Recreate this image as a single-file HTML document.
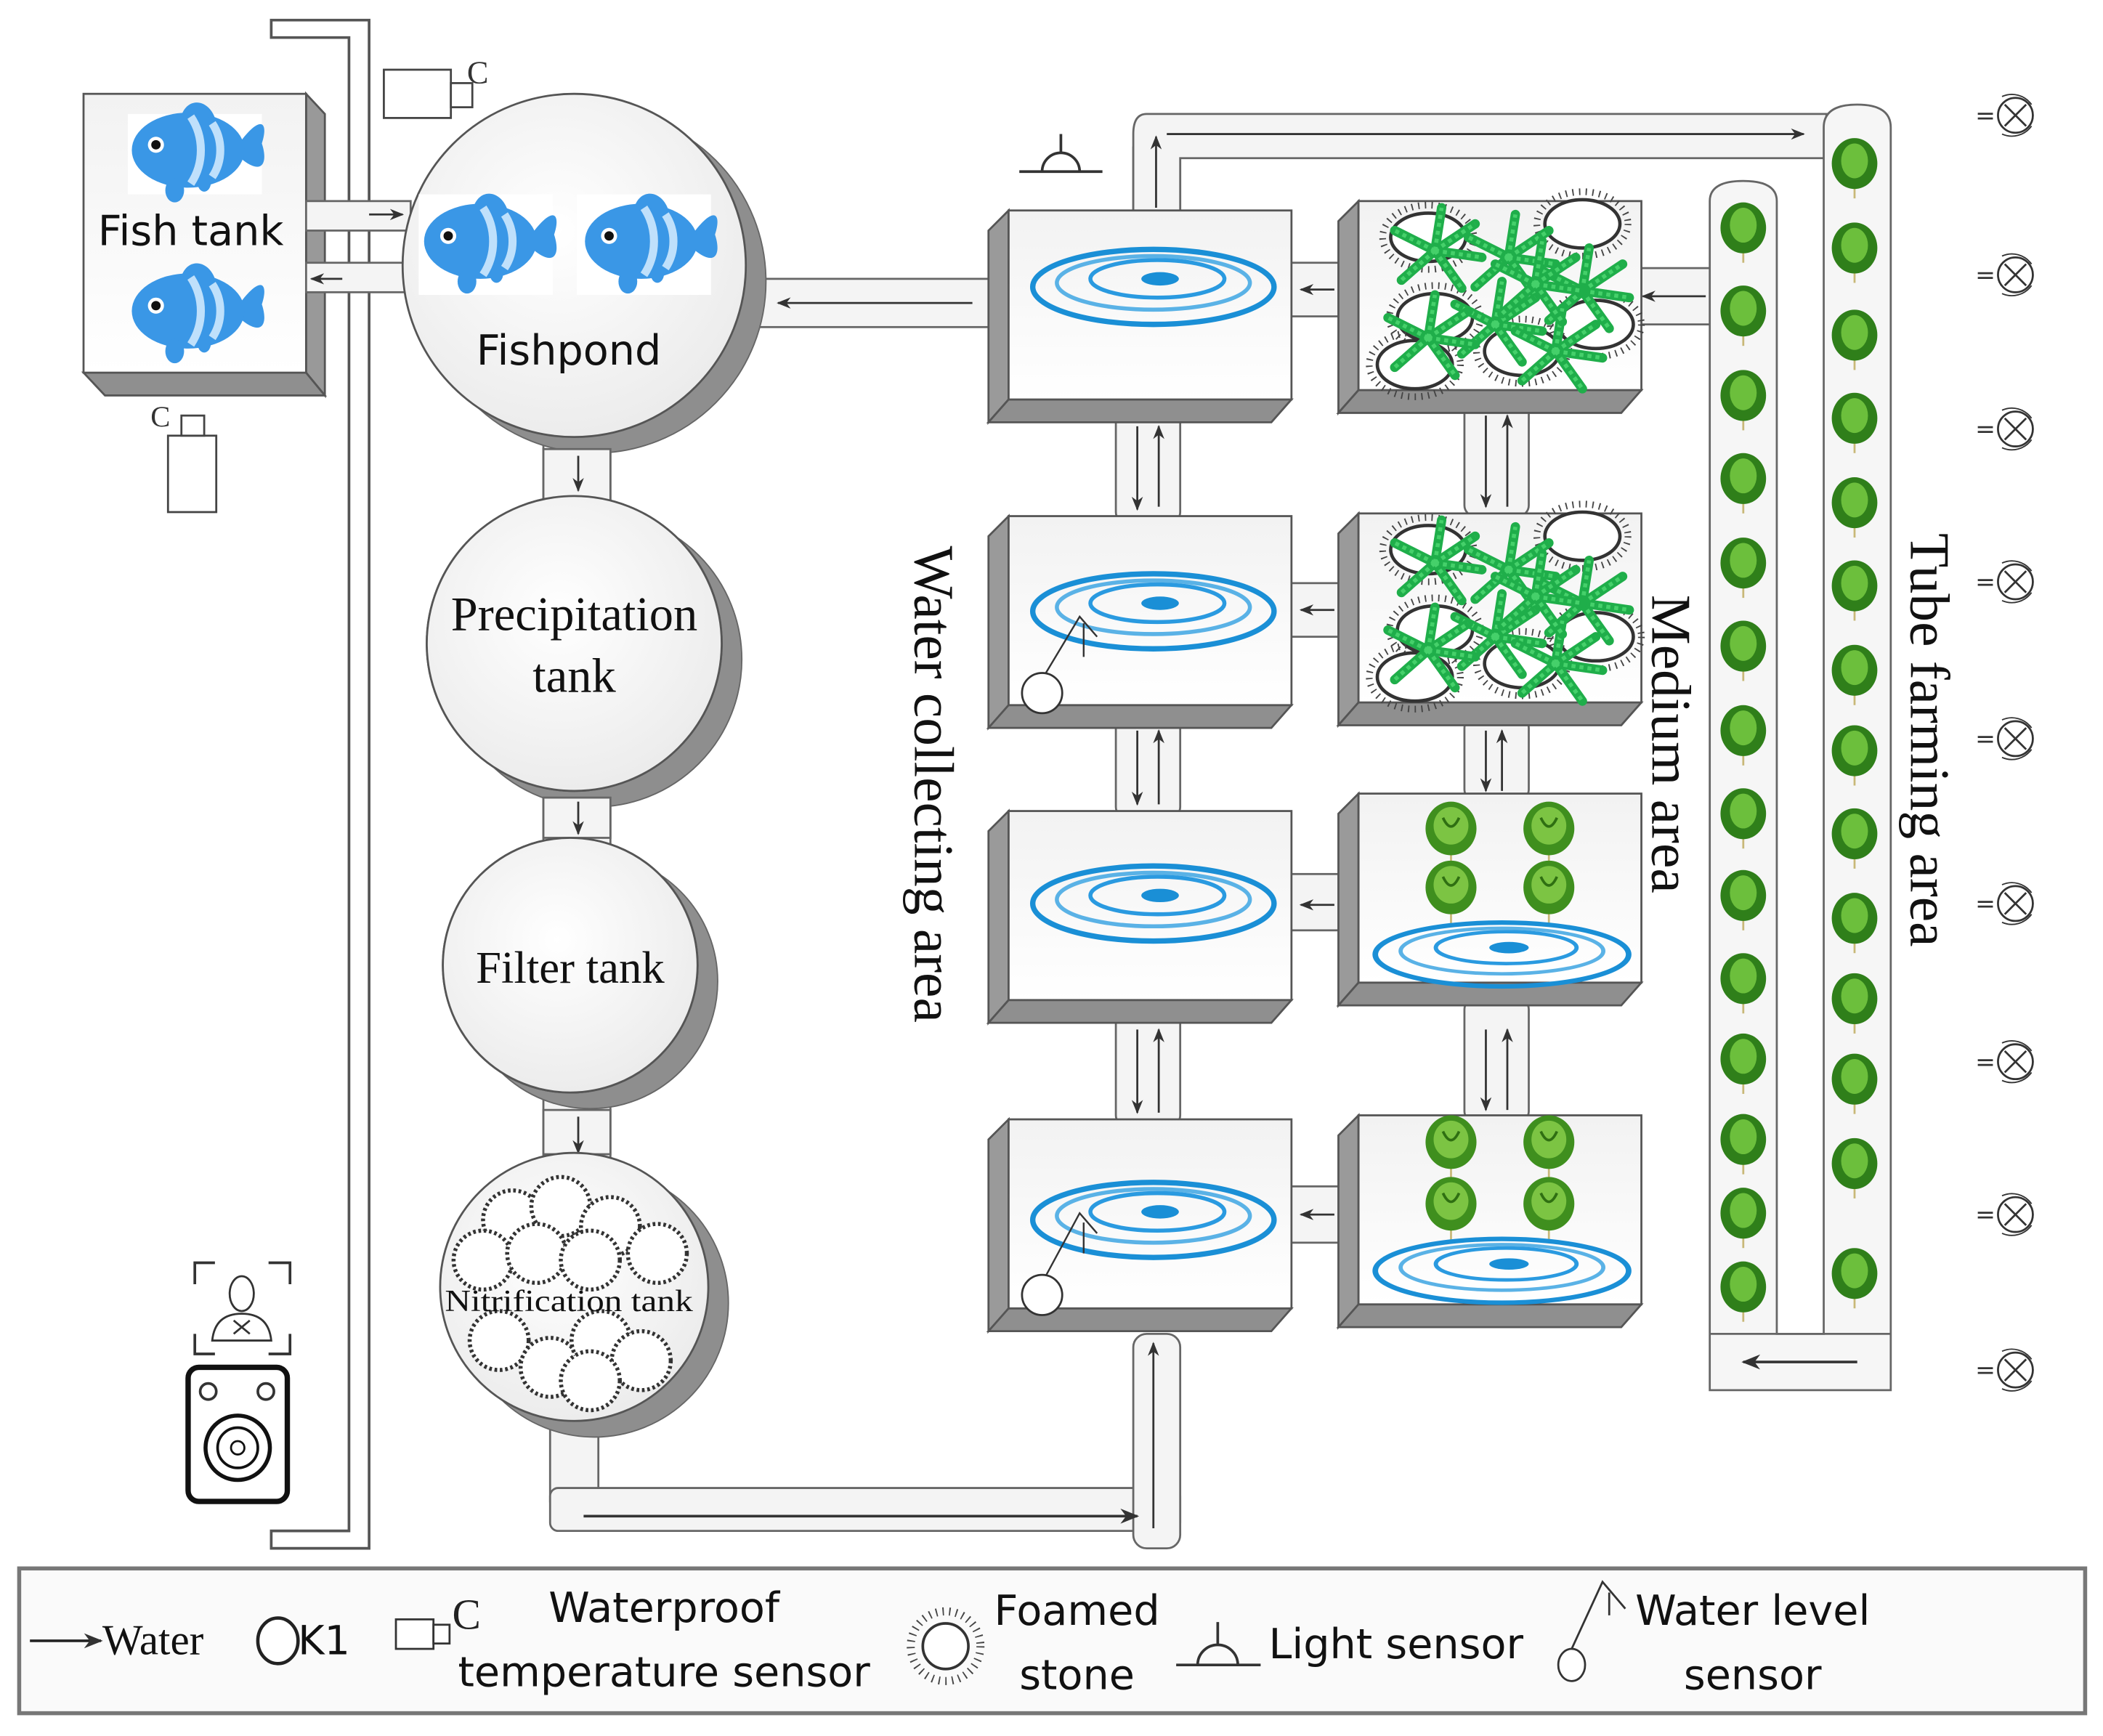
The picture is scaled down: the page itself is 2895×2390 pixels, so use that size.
<!DOCTYPE html>
<html><head><meta charset="utf-8">
<style>
html,body{margin:0;padding:0;background:#fff;}
svg{display:block;}
.sans{font-family:"DejaVu Sans","Liberation Sans",sans-serif;}
.serif{font-family:"Liberation Serif",serif;}
</style></head>
<body>
<svg width="2895" height="2390" viewBox="0 0 1568 1295" xmlns="http://www.w3.org/2000/svg">
<defs>
  <marker id="ah" viewBox="0 0 10 10" refX="9" refY="5" markerWidth="7" markerHeight="7" orient="auto-start-reverse">
    <path d="M0,1 L10,5 L0,9 L3,5 z" fill="#333"/>
  </marker>
  <linearGradient id="fg" x1="0" y1="0" x2="0" y2="1">
    <stop offset="0" stop-color="#f2f2f2"/><stop offset="1" stop-color="#ffffff"/>
  </linearGradient>
  <radialGradient id="cg" cx="0.45" cy="0.4" r="0.6">
    <stop offset="0" stop-color="#ffffff"/><stop offset="1" stop-color="#ececec"/>
  </radialGradient>
  <g id="box">
    <polygon points="0,15 15,0 15,141 0,158" fill="#9a9a9a" stroke="#555" stroke-width="1.5"/>
    <polygon points="0,158 15,141 226,141 211,158" fill="#8f8f8f" stroke="#555" stroke-width="1.5"/>
    <rect x="15" y="0" width="211" height="141" fill="url(#fg)" stroke="#555" stroke-width="1.5"/>
  </g>
  <g id="ripple">
    <ellipse cx="0" cy="0" rx="90" ry="28" fill="none" stroke="#1a8fd6" stroke-width="4"/>
    <ellipse cx="0" cy="-3" rx="72" ry="20" fill="none" stroke="#5ab2e6" stroke-width="3"/>
    <ellipse cx="3" cy="-6" rx="50" ry="14" fill="none" stroke="#2a9ae0" stroke-width="3"/>
    <ellipse cx="5" cy="-6" rx="14" ry="5" fill="#1a8fd6"/>
  </g>
  <g id="fish">
    <path d="M38,-5 C55,-28 60,-20 55,-5 C60,10 55,20 38,5 z" fill="#3a97e6"/>
    <ellipse cx="0" cy="0" rx="42" ry="28" fill="#3a97e6"/>
    <path d="M-5,-26 C0,-40 15,-38 20,-24 z" fill="#3a97e6"/>
    <ellipse cx="-10" cy="30" rx="7" ry="9" fill="#3a97e6"/>
    <ellipse cx="12" cy="24" rx="5" ry="7" fill="#3a97e6"/>
    <path d="M2,-25 C12,-10 12,10 2,25" stroke="#bfe0fb" stroke-width="6" fill="none"/>
    <path d="M18,-20 C26,-8 26,8 18,20" stroke="#bfe0fb" stroke-width="6" fill="none"/>
    <circle cx="-24" cy="-4" r="6" fill="#fff"/><circle cx="-24" cy="-4" r="3.5" fill="#111"/>
  </g>
  <g id="let">
    <line x1="0" y1="10" x2="0" y2="28" stroke="#c8b878" stroke-width="1.5"/>
    <ellipse cx="0" cy="0" rx="19" ry="20" fill="#3f8f1e"/>
    <ellipse cx="0" cy="-2" rx="13" ry="14" fill="#7cc443"/>
    <path d="M-6,-8 Q0,5 6,-8" stroke="#2f6f12" stroke-width="2" fill="none"/>
  </g>
  <g id="slet">
    <line x1="0" y1="10" x2="0" y2="26" stroke="#c8b878" stroke-width="1.5"/>
    <ellipse cx="0" cy="0" rx="17" ry="19" fill="#2f7f1a"/>
    <ellipse cx="0" cy="-2" rx="10" ry="13" fill="#6cbf3c"/>
  </g>
  <g id="stone">
    <circle r="22" fill="#fff" stroke="#333" stroke-width="3" stroke-dasharray="2 2"/>
  </g>
  <g id="fern">
    <path d="M0,0 L30,-20 M0,0 L35,5 M0,0 L20,28 M0,0 L-30,-15 M0,0 L-25,22 M0,0 L5,-32" stroke="#1fae4a" stroke-width="7" stroke-linecap="round"/>
    <path d="M0,0 L30,-20 M0,0 L35,5 M0,0 L20,28 M0,0 L-30,-15 M0,0 L-25,22 M0,0 L5,-32" stroke="#45d06a" stroke-width="3" stroke-dasharray="3 3"/>
  </g>
  <g id="spike">
    <ellipse rx="28" ry="18" fill="#fff" stroke="#333" stroke-width="2.5"/>
    <ellipse rx="34" ry="24" fill="none" stroke="#444" stroke-width="5" stroke-dasharray="1 4"/>
  </g>
  <g id="fan">
    <text x="-22" y="6" font-size="18" class="sans" fill="#333">=</text>
    <circle cx="8" cy="0" r="13" fill="#fff" stroke="#333" stroke-width="1.5"/>
    <path d="M0,-8 L16,8 M16,-8 L0,8" stroke="#333" stroke-width="1.5"/>
    <path d="M-2,-14 A18,18 0 0 1 20,-8 M-2,14 A18,18 0 0 0 20,8" stroke="#333" stroke-width="1" fill="none"/>
  </g>
  <g id="medgreen">
    <use href="#spike" x="-60" y="-45"/><use href="#spike" x="55" y="-55"/>
    <use href="#spike" x="-55" y="15"/><use href="#spike" x="65" y="20"/>
    <use href="#spike" x="-70" y="50"/><use href="#spike" x="10" y="40"/>
    <use href="#fern" x="-55" y="-35"/><use href="#fern" x="0" y="-30"/>
    <use href="#fern" x="55" y="-5"/><use href="#fern" x="-10" y="20"/>
    <use href="#fern" x="35" y="40"/><use href="#fern" x="-60" y="30"/>
    <use href="#fern" x="20" y="-10"/>
  </g>
</defs>

<!-- big pole -->
<polygon points="202,15 275,15 275,1155 202,1155 202,1142 260,1142 260,28 202,28" fill="#fff" stroke="#555" stroke-width="2"/>

<!-- fish tank -->
<polygon points="228,70 242,85 242,295 228,278" fill="#999" stroke="#555" stroke-width="1.5"/>
<polygon points="62,278 228,278 242,295 78,295" fill="#8f8f8f" stroke="#555" stroke-width="1.5"/>
<rect x="62" y="70" width="166" height="208" fill="url(#fg)" stroke="#555" stroke-width="1.5"/>
<rect x="95" y="85" width="100" height="60" fill="#fff"/>
<use href="#fish" x="140" y="112"/>
<use href="#fish" x="140" y="232"/>
<text x="142" y="183" font-size="31" class="sans" text-anchor="middle" fill="#111">Fish tank</text>

<!-- pipes fish tank - fishpond -->
<rect x="228" y="150" width="78" height="22" fill="#f4f4f4" stroke="#666" stroke-width="1.5"/>
<rect x="228" y="196" width="78" height="22" fill="#f4f4f4" stroke="#666" stroke-width="1.5"/>
<line x1="275" y1="160" x2="300" y2="160" stroke="#333" stroke-width="1.5" marker-end="url(#ah)"/>
<line x1="255" y1="208" x2="232" y2="208" stroke="#333" stroke-width="1.5" marker-end="url(#ah)"/>

<!-- temp sensors -->
<rect x="286" y="52" width="50" height="36" fill="#fff" stroke="#444" stroke-width="1.5"/>
<rect x="336" y="62" width="16" height="18" fill="#fff" stroke="#444" stroke-width="1.5"/>
<text x="348" y="62" font-size="24" class="serif" fill="#333">C</text>
<rect x="125" y="325" width="36" height="57" fill="#fff" stroke="#444" stroke-width="1.5"/>
<rect x="135" y="310" width="17" height="15" fill="#fff" stroke="#444" stroke-width="1.5"/>
<text x="112" y="318" font-size="22" class="serif" fill="#333">C</text>

<!-- pipe fishpond <- water box -->
<rect x="540" y="208" width="200" height="36" fill="#f4f4f4" stroke="#666" stroke-width="1.5"/>
<line x1="725" y1="226" x2="580" y2="226" stroke="#333" stroke-width="1.5" marker-end="url(#ah)"/>

<!-- connector pipes circles -->
<rect x="405" y="318" width="50" height="60" fill="#f4f4f4" stroke="#666" stroke-width="1.5"/>
<rect x="405" y="585" width="50" height="45" fill="#f4f4f4" stroke="#666" stroke-width="1.5"/>
<rect x="405" y="810" width="50" height="55" fill="#f4f4f4" stroke="#666" stroke-width="1.5"/>

<!-- fishpond -->
<circle cx="443" cy="210" r="128" fill="#8e8e8e" stroke="#666"/>
<circle cx="428" cy="198" r="128" fill="url(#cg)" stroke="#555" stroke-width="1.5"/>
<rect x="312" y="145" width="100" height="75" fill="#fff"/>
<rect x="430" y="145" width="100" height="75" fill="#fff"/>
<use href="#fish" x="358" y="180"/><use href="#fish" x="478" y="180"/>
<text x="424" y="272" font-size="31" class="sans" text-anchor="middle" fill="#111">Fishpond</text>

<!-- precipitation -->
<circle cx="443" cy="492" r="110" fill="#8e8e8e" stroke="#666"/>
<circle cx="428" cy="480" r="110" fill="url(#cg)" stroke="#555" stroke-width="1.5"/>
<text x="428" y="470" font-size="36" class="serif" text-anchor="middle" fill="#111">Precipitation</text>
<text x="428" y="516" font-size="36" class="serif" text-anchor="middle" fill="#111">tank</text>

<!-- filter -->
<circle cx="440" cy="732" r="95" fill="#8e8e8e" stroke="#666"/>
<circle cx="425" cy="720" r="95" fill="url(#cg)" stroke="#555" stroke-width="1.5"/>
<text x="425" y="733" font-size="34" class="serif" text-anchor="middle" fill="#111">Filter tank</text>

<!-- circle connector pipes (drawn over shadows) -->
<rect x="405" y="335" width="50" height="40" fill="#f4f4f4" stroke="#666" stroke-width="1.5"/>
<rect x="405" y="595" width="50" height="30" fill="#f4f4f4" stroke="#666" stroke-width="1.5"/>
<rect x="405" y="828" width="50" height="33" fill="#f4f4f4" stroke="#666" stroke-width="1.5"/>
<circle cx="428" cy="480" r="110" fill="url(#cg)" stroke="#555" stroke-width="1.5"/>
<text x="428" y="470" font-size="36" class="serif" text-anchor="middle" fill="#111">Precipitation</text>
<text x="428" y="516" font-size="36" class="serif" text-anchor="middle" fill="#111">tank</text>
<circle cx="425" cy="720" r="95" fill="url(#cg)" stroke="#555" stroke-width="1.5"/>
<text x="425" y="733" font-size="34" class="serif" text-anchor="middle" fill="#111">Filter tank</text>
<g stroke="#333" stroke-width="1.5" marker-end="url(#ah)">
<line x1="431" y1="340" x2="431" y2="366"/>
<line x1="431" y1="598" x2="431" y2="622"/>
<line x1="431" y1="833" x2="431" y2="860"/>
</g>

<!-- bottom pipe -->
<rect x="410" y="1060" width="36" height="60" fill="#f4f4f4" stroke="#666" stroke-width="1.5"/>
<rect x="410" y="1110" width="470" height="32" rx="6" fill="#f4f4f4" stroke="#666" stroke-width="1.5"/>
<rect x="845" y="995" width="35" height="160" rx="10" fill="#f4f4f4" stroke="#666" stroke-width="1.5"/>
<line x1="435" y1="1131" x2="848" y2="1131" stroke="#333" stroke-width="2" marker-end="url(#ah)"/>
<line x1="860" y1="1140" x2="860" y2="1002" stroke="#333" stroke-width="1.5" marker-end="url(#ah)"/>

<!-- nitrification -->
<circle cx="443" cy="972" r="100" fill="#8e8e8e" stroke="#666"/>
<circle cx="428" cy="960" r="100" fill="url(#cg)" stroke="#555" stroke-width="1.5"/>
<use href="#stone" x="382" y="910"/><use href="#stone" x="418" y="900"/><use href="#stone" x="455" y="915"/>
<use href="#stone" x="490" y="935"/><use href="#stone" x="360" y="940"/><use href="#stone" x="400" y="935"/><use href="#stone" x="440" y="940"/>
<use href="#stone" x="372" y="1000"/><use href="#stone" x="410" y="1020"/><use href="#stone" x="448" y="1000"/><use href="#stone" x="478" y="1015"/><use href="#stone" x="440" y="1030"/>
<text x="424" y="978" font-size="23" class="serif" text-anchor="middle" fill="#111" textLength="185" lengthAdjust="spacingAndGlyphs">Nitrification tank</text>

<!-- person & speaker -->
<path d="M145,958 V942 H160 M200,942 H216 V958 M145,995 V1010 H160 M200,1010 H216 V995" stroke="#333" stroke-width="2" fill="none"/>
<ellipse cx="180" cy="965" rx="9" ry="13" fill="#fff" stroke="#333" stroke-width="1.5"/>
<path d="M158,1000 Q160,980 180,980 Q200,980 202,1000 z" fill="#fff" stroke="#333" stroke-width="1.5"/>
<path d="M174,985 L186,995 M186,985 L174,995" stroke="#333" stroke-width="1.5"/>
<rect x="140" y="1020" width="74" height="100" rx="8" fill="#fff" stroke="#111" stroke-width="4"/>
<circle cx="155" cy="1038" r="6" fill="#fff" stroke="#333" stroke-width="2"/>
<circle cx="198" cy="1038" r="6" fill="#fff" stroke="#333" stroke-width="2"/>
<circle cx="177" cy="1080" r="24" fill="#fff" stroke="#111" stroke-width="3"/>
<circle cx="177" cy="1080" r="15" fill="#fff" stroke="#111" stroke-width="2"/>
<circle cx="177" cy="1080" r="5" fill="#fff" stroke="#111" stroke-width="1.5"/>

<!-- top pipe -->
<rect x="845" y="110" width="35" height="50" fill="#f4f4f4" stroke="#666" stroke-width="1.5"/>
<path d="M855,85 H1362 V118 H880 V160 H845 V100 Q845,85 855,85 z" fill="#f4f4f4" stroke="#666" stroke-width="1.5"/>
<line x1="862" y1="155" x2="862" y2="102" stroke="#333" stroke-width="1.5" marker-end="url(#ah)"/>
<line x1="870" y1="100" x2="1345" y2="100" stroke="#333" stroke-width="1.5" marker-end="url(#ah)"/>
<!-- light sensor -->
<path d="M760,128 H822 M777,128 A14,14 0 0 1 805,128 M791,114 V100" stroke="#333" stroke-width="2" fill="none"/>

<!-- vertical connectors -->
<g fill="#f4f4f4" stroke="#666" stroke-width="1.5">
<rect x="832" y="305" width="48" height="85" rx="8"/>
<rect x="832" y="535" width="48" height="75" rx="8"/>
<rect x="832" y="755" width="48" height="85" rx="8"/>
<rect x="1092" y="295" width="48" height="90" rx="8"/>
<rect x="1092" y="535" width="48" height="62" rx="8"/>
<rect x="1092" y="745" width="48" height="92" rx="8"/>
</g>
<g stroke="#333" stroke-width="1.5" marker-end="url(#ah)">
<line x1="848" y1="318" x2="848" y2="380"/><line x1="864" y1="378" x2="864" y2="318"/>
<line x1="848" y1="545" x2="848" y2="600"/><line x1="864" y1="600" x2="864" y2="545"/>
<line x1="848" y1="768" x2="848" y2="830"/><line x1="864" y1="830" x2="864" y2="768"/>
<line x1="1108" y1="310" x2="1108" y2="378"/><line x1="1124" y1="378" x2="1124" y2="310"/>
<line x1="1108" y1="545" x2="1108" y2="590"/><line x1="1120" y1="590" x2="1120" y2="545"/>
<line x1="1108" y1="768" x2="1108" y2="828"/><line x1="1124" y1="828" x2="1124" y2="768"/>
</g>

<!-- horizontal connectors -->
<g fill="#f4f4f4" stroke="#666" stroke-width="1.5">
<rect x="960" y="196" width="42" height="40"/>
<rect x="960" y="435" width="42" height="40"/>
<rect x="960" y="652" width="42" height="42"/>
<rect x="960" y="885" width="42" height="42"/>
<rect x="1218" y="200" width="60" height="42"/>
</g>
<g stroke="#333" stroke-width="1.5" marker-end="url(#ah)">
<line x1="995" y1="216" x2="970" y2="216"/>
<line x1="995" y1="455" x2="970" y2="455"/>
<line x1="995" y1="675" x2="970" y2="675"/>
<line x1="995" y1="906" x2="970" y2="906"/>
<line x1="1272" y1="221" x2="1225" y2="221"/>
</g>

<!-- water boxes -->
<use href="#box" x="737" y="157"/>
<use href="#box" x="737" y="385"/>
<use href="#box" x="737" y="605"/>
<use href="#box" x="737" y="835"/>
<use href="#ripple" x="860" y="214"/>
<use href="#ripple" x="860" y="456"/>
<use href="#ripple" x="860" y="674"/>
<use href="#ripple" x="860" y="910"/>
<g stroke="#333" stroke-width="1.3" fill="none">
<path d="M778,505 L805,460 L818,475 M808,465 L808,490"/>
<path d="M778,955 L805,905 L818,920 M808,912 L808,935"/>
</g>
<circle cx="777" cy="517" r="15" fill="#fff" stroke="#333" stroke-width="1.5"/>
<circle cx="777" cy="966" r="15" fill="#fff" stroke="#333" stroke-width="1.5"/>

<!-- medium boxes -->
<use href="#box" x="998" y="150"/>
<use href="#box" x="998" y="383"/>
<use href="#box" x="998" y="592"/>
<use href="#box" x="998" y="832"/>
<use href="#medgreen" x="1125" y="222"/>
<use href="#medgreen" x="1125" y="455"/>
<use href="#let" x="1082" y="618"/><use href="#let" x="1155" y="618"/>
<use href="#let" x="1082" y="662"/><use href="#let" x="1155" y="662"/>
<use href="#ripple" x="1120" y="712" transform="translate(1120 712) scale(1.05 0.85) translate(-1120 -712)"/>
<use href="#let" x="1082" y="852"/><use href="#let" x="1155" y="852"/>
<use href="#let" x="1082" y="898"/><use href="#let" x="1155" y="898"/>
<use href="#ripple" x="1120" y="948" transform="translate(1120 948) scale(1.05 0.85) translate(-1120 -948)"/>

<!-- tubes -->
<path d="M1275,150 Q1275,135 1300,135 Q1325,135 1325,150 V995 H1360 V95 Q1360,78 1385,78 Q1410,78 1410,95 V1037 H1275 z" fill="#f6f6f6" stroke="#666" stroke-width="1.5"/>
<line x1="1275" y1="995" x2="1410" y2="995" stroke="#666" stroke-width="1.5"/>
<line x1="1385" y1="1016" x2="1300" y2="1016" stroke="#333" stroke-width="2" marker-end="url(#ah)"/>
<g>
<use href="#slet" x="1300" y="170"/><use href="#slet" x="1300" y="232"/><use href="#slet" x="1300" y="295"/>
<use href="#slet" x="1300" y="357"/><use href="#slet" x="1300" y="420"/><use href="#slet" x="1300" y="482"/>
<use href="#slet" x="1300" y="545"/><use href="#slet" x="1300" y="607"/><use href="#slet" x="1300" y="668"/>
<use href="#slet" x="1300" y="730"/><use href="#slet" x="1300" y="790"/><use href="#slet" x="1300" y="850"/>
<use href="#slet" x="1300" y="905"/><use href="#slet" x="1300" y="960"/>
<use href="#slet" x="1383" y="122"/><use href="#slet" x="1383" y="185"/><use href="#slet" x="1383" y="250"/>
<use href="#slet" x="1383" y="312"/><use href="#slet" x="1383" y="375"/><use href="#slet" x="1383" y="437"/>
<use href="#slet" x="1383" y="500"/><use href="#slet" x="1383" y="560"/><use href="#slet" x="1383" y="622"/>
<use href="#slet" x="1383" y="685"/><use href="#slet" x="1383" y="745"/><use href="#slet" x="1383" y="805"/>
<use href="#slet" x="1383" y="868"/><use href="#slet" x="1383" y="950"/>
</g>

<!-- fans -->
<use href="#fan" x="1495" y="86"/><use href="#fan" x="1495" y="205"/><use href="#fan" x="1495" y="320"/>
<use href="#fan" x="1495" y="434"/><use href="#fan" x="1495" y="551"/><use href="#fan" x="1495" y="674"/>
<use href="#fan" x="1495" y="792"/><use href="#fan" x="1495" y="906"/><use href="#fan" x="1495" y="1022"/>

<!-- area labels -->
<text transform="translate(682 585) rotate(90)" font-size="42" class="serif" text-anchor="middle" fill="#111">Water collecting area</text>
<text transform="translate(1232 555) rotate(90)" font-size="42" class="serif" text-anchor="middle" fill="#111">Medium area</text>
<text transform="translate(1425 552) rotate(90)" font-size="42" class="serif" text-anchor="middle" fill="#111">Tube farming area</text>

<!-- legend -->
<rect x="14" y="1170" width="1541" height="108" fill="#fafafa" stroke="#777" stroke-width="3"/>
<line x1="22" y1="1224" x2="75" y2="1224" stroke="#222" stroke-width="2" marker-end="url(#ah)"/>
<text x="76" y="1234" font-size="32" class="serif" fill="#111">Water</text>
<ellipse cx="207" cy="1224" rx="15" ry="17" fill="#fff" stroke="#222" stroke-width="2.5"/>
<text x="222" y="1234" font-size="30" class="sans" fill="#111">K1</text>
<rect x="295" y="1208" width="28" height="22" fill="#fff" stroke="#333" stroke-width="1.5"/>
<rect x="323" y="1212" width="12" height="14" fill="#fff" stroke="#333" stroke-width="1.5"/>
<text x="337" y="1215" font-size="32" class="serif" fill="#222">C</text>
<text x="495" y="1210" font-size="31" class="sans" text-anchor="middle" fill="#111">Waterproof</text>
<text x="495" y="1258" font-size="31" class="sans" text-anchor="middle" fill="#111">temperature sensor</text>
<circle cx="705" cy="1228" r="17" fill="#fff" stroke="#333" stroke-width="2"/>
<circle cx="705" cy="1228" r="26" fill="none" stroke="#444" stroke-width="6" stroke-dasharray="1 4"/>
<text x="803" y="1212" font-size="31" class="sans" text-anchor="middle" fill="#111">Foamed</text>
<text x="803" y="1260" font-size="31" class="sans" text-anchor="middle" fill="#111">stone</text>
<path d="M877,1242 H940 M893,1242 A15,15 0 0 1 923,1242 M908,1227 V1210" stroke="#333" stroke-width="2" fill="none"/>
<text x="946" y="1237" font-size="31" class="sans" fill="#111">Light sensor</text>
<path d="M1172,1230 L1195,1180 L1212,1200 M1200,1188 L1200,1205" stroke="#333" stroke-width="1.5" fill="none"/>
<ellipse cx="1172" cy="1242" rx="10" ry="12" fill="#fff" stroke="#333" stroke-width="1.5"/>
<text x="1307" y="1212" font-size="31" class="sans" text-anchor="middle" fill="#111">Water level</text>
<text x="1307" y="1260" font-size="31" class="sans" text-anchor="middle" fill="#111">sensor</text>
</svg>
</body></html>
